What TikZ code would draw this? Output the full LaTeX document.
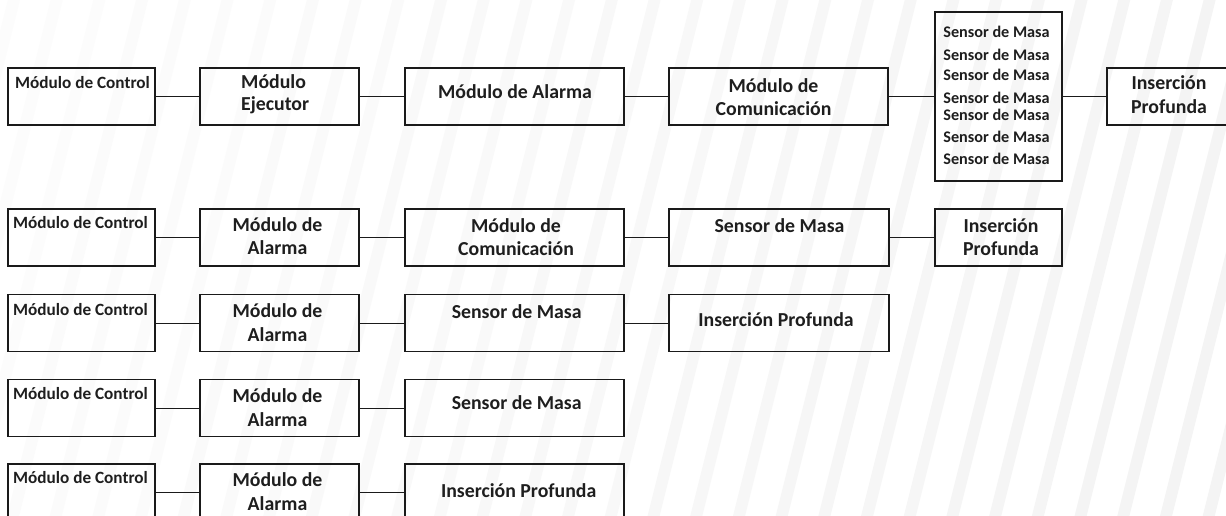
\documentclass[tikz,border=0pt]{standalone}
\usepackage{fontspec}
\setmainfont{Carlito}
\definecolor{txt}{HTML}{1E1E1E}
\definecolor{edge}{HTML}{1A1A1A}
\tikzset{
  boxst/.style={draw=edge, line width=1.6pt, fill=none, inner sep=0pt},
  conn/.style={draw=edge, line width=0.9pt},
  lbl/.style={anchor=base, inner sep=0pt, text=txt, font=\bfseries\fontsize{19.8}{23}\selectfont},
  lblw/.style={lbl, anchor=base west},
  small/.style={font=\bfseries\fontsize{17.2}{20}\selectfont},
  tiny/.style={font=\bfseries\fontsize{16.2}{19}\selectfont},
}
\newcommand{\bx}[5]{\node[boxst, minimum width=#4pt, minimum height=#5pt] (#1) at (#2,#3) {};}
\begin{document}
\begin{tikzpicture}[x=1pt,y=-1pt]
\useasboundingbox (0,0) rectangle (1226,516);
\clip (0,0) rectangle (1226,516);
\fill[white] (0,0) rectangle (1226,516);
% background stripes
\foreach \k in {-21,...,12}{
  \pgfmathsetmacro\xb{733+42.7*\k}
  \pgfmathsetmacro\p{1.2+3.2*max(0,min(1,(\xb+65)/1226))}
  \fill[black!\p] (\xb,516) -- ({\xb+12},516) -- ({\xb+141},0) -- ({\xb+129},0) -- cycle;
}
% row 1
\bx{c1}{81.5}{96.5}{147}{57}
\bx{e1}{279.5}{96.5}{159}{57}
\bx{a1}{514.5}{96.5}{219}{57}
\bx{m1}{778.5}{96.5}{219}{57}
\bx{s1}{998.5}{96.5}{127}{169}
\bx{i1}{1176}{96.5}{138}{57}
% row 2
\bx{c2}{81.5}{237.5}{147}{57}
\bx{a2}{279.5}{237.5}{159}{57}
\bx{m2}{514.5}{237.5}{219}{57}
\bx{s2}{779}{237.5}{220}{57}
\bx{i2}{998.5}{237.5}{127}{57}
% row 3
\bx{c3}{81.5}{323}{147}{57}
\bx{a3}{279.5}{323}{159}{57}
\bx{s3}{514.5}{323}{219}{57}
\bx{i3}{779}{323}{220}{57}
% row 4
\bx{c4}{81.5}{408}{147}{57}
\bx{a4}{279.5}{408}{159}{57}
\bx{s4}{514.5}{408}{219}{57}
% row 5
\bx{c5}{81.5}{492.5}{147}{57}
\bx{a5}{279.5}{492.5}{159}{57}
\bx{i5}{514.5}{492.5}{219}{57}
% connectors
\draw[conn] (c1) -- (e1);
\draw[conn] (e1) -- (a1);
\draw[conn] (a1) -- (m1);
\draw[conn] (m1) -- (s1);
\draw[conn] (s1) -- (i1);
\draw[conn] (c2) -- (a2);
\draw[conn] (a2) -- (m2);
\draw[conn] (m2) -- (s2);
\draw[conn] (s2) -- (i2);
\draw[conn] (c3) -- (a3);
\draw[conn] (a3) -- (s3);
\draw[conn] (s3) -- (i3);
\draw[conn] (c4) -- (a4);
\draw[conn] (a4) -- (s4);
\draw[conn] (c5) -- (a5);
\draw[conn] (a5) -- (i5);
% texts row 1
\node[lblw, small] (tc1) at (15,89) {Módulo de Control};
\node[lblw] (te1a) at (241,88.7) {Módulo};
\node[lblw] (te1b) at (241,111) {Ejecutor};
\node[lbl] (ta1) at (515,98.7) {Módulo de Alarma};
\node[lbl] (tm1a) at (773.5,92.3) {Módulo de};
\node[lbl] (tm1b) at (773.5,115.5) {Comunicación};
\node[lbl, tiny] (ts1a) at (996.5,37.7) {Sensor de Masa};
\node[lbl, tiny] (ts1b) at (996.5,60.7) {Sensor de Masa};
\node[lbl, tiny] (ts1c) at (996.5,81) {Sensor de Masa};
\node[lbl, tiny] (ts1d) at (996.5,103.3) {Sensor de Masa};
\node[lbl, tiny] (ts1e) at (996.5,121) {Sensor de Masa};
\node[lbl, tiny] (ts1f) at (996.5,142.7) {Sensor de Masa};
\node[lbl, tiny] (ts1g) at (996.5,164.3) {Sensor de Masa};
\node[lbl] (ti1a) at (1169,90) {Inserción};
\node[lbl] (ti1b) at (1169,113.3) {Profunda};
% texts row 2
\node[lblw, small] (tc2) at (13,228) {Módulo de Control};
\node[lbl] (ta2a) at (277.5,231) {Módulo de};
\node[lbl] (ta2b) at (277.5,254.3) {Alarma};
\node[lbl] (tm2a) at (516,232.3) {Módulo de};
\node[lbl] (tm2b) at (516,255.7) {Comunicación};
\node[lbl] (ts2) at (779.5,232.3) {Sensor de Masa};
\node[lbl] (ti2a) at (1001,232.3) {Inserción};
\node[lbl] (ti2b) at (1001,255.7) {Profunda};
% texts row 3
\node[lblw, small] (tc3) at (13,315) {Módulo de Control};
\node[lbl] (ta3a) at (277.5,317.7) {Módulo de};
\node[lbl] (ta3b) at (277.5,341) {Alarma};
\node[lbl] (ts3) at (516.7,318.3) {Sensor de Masa};
\node[lbl] (ti3) at (776,326) {Inserción Profunda};
% texts row 4
\node[lblw, small] (tc4) at (13,399.3) {Módulo de Control};
\node[lbl] (ta4a) at (277.5,402) {Módulo de};
\node[lbl] (ta4b) at (277.5,426) {Alarma};
\node[lbl] (ts4) at (516.7,409) {Sensor de Masa};
% texts row 5
\node[lblw, small] (tc5) at (13,483.3) {Módulo de Control};
\node[lbl] (ta5a) at (277.5,486.7) {Módulo de};
\node[lbl] (ta5b) at (277.5,510) {Alarma};
\node[lbl] (ti5) at (518.7,497.3) {Inserción Profunda};
\end{tikzpicture}
\end{document}
